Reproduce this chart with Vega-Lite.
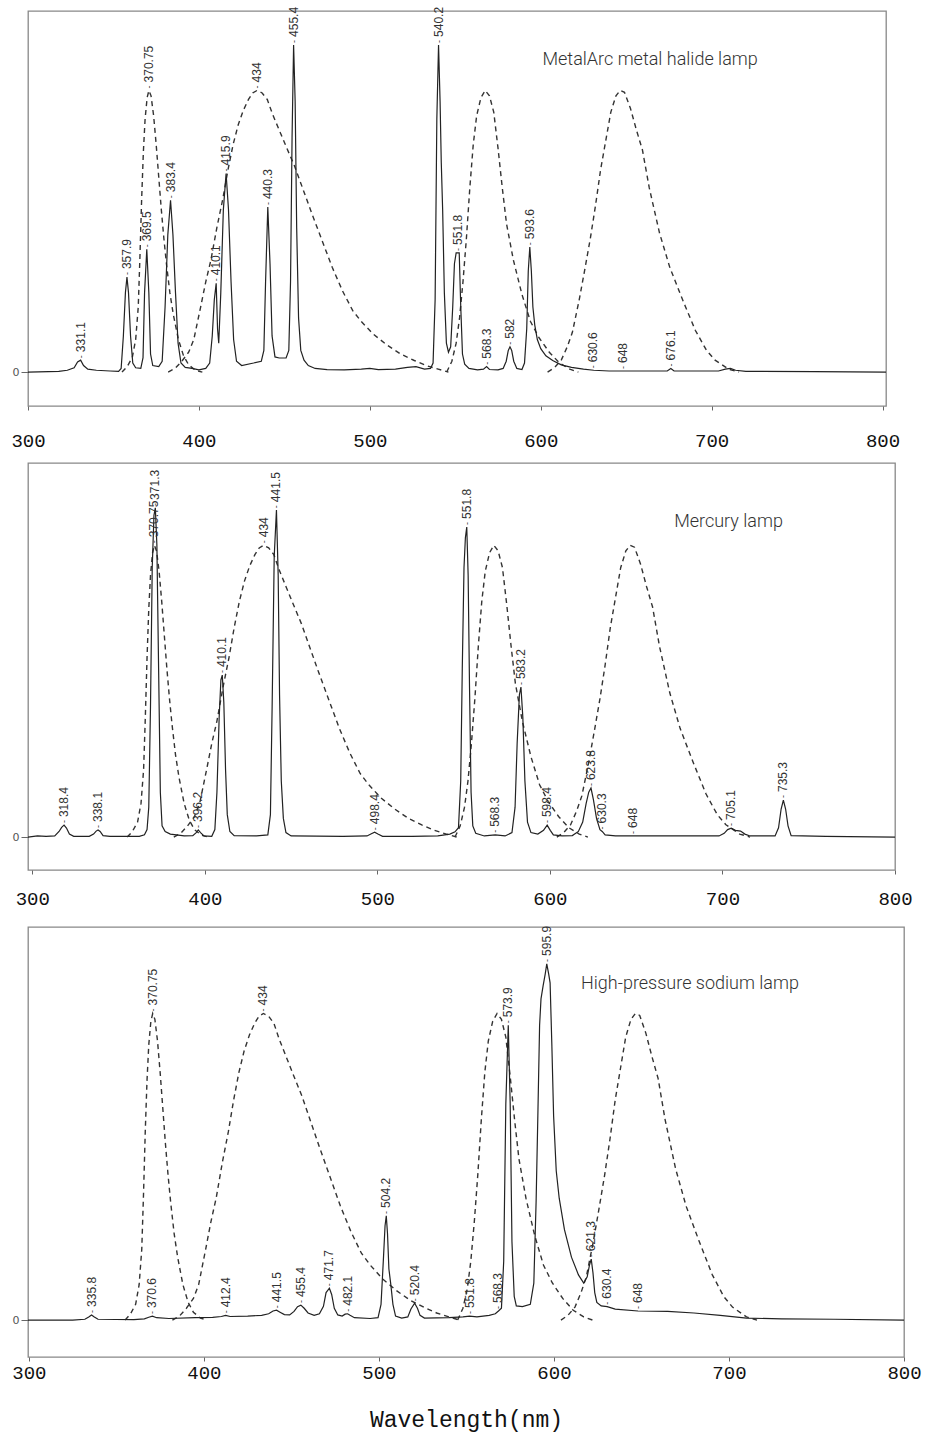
{
"$schema": "https://vega.github.io/schema/vega-lite/v6.json",
"padding": {"left": 10, "top": 6, "right": 5, "bottom": 5},
"background": "white",
"spacing": 57,
"bounds": "flush",
"config": {
  "view": {"stroke": "#888", "strokeWidth": 1.3},
  "axisX": {"labelFont": "Liberation Mono", "labelFontSize": 19, "labelColor": "#111", "tickColor": "#666", "tickSize": 4, "domain": false, "grid": false, "labelFlush": false, "labelOverlap": false, "title": null},
  "axisY": {"labelFont": "DejaVu Sans", "labelFontSize": 11, "labelColor": "#555", "tickColor": "#666", "tickSize": 7, "labelPadding": 2, "domain": false, "grid": false, "title": null},
  "line": {"color": "#222", "strokeWidth": 1.2},
  "text": {"font": "Liberation Sans", "color": "#333"}
},
"datasets": {
  "dash": [
    {"c":"A","wl":355,"v":0},{"c":"A","wl":358,"v":1.5},{"c":"A","wl":361,"v":4},{"c":"A","wl":363,"v":9},{"c":"A","wl":364.5,"v":18},{"c":"A","wl":365.5,"v":32},{"c":"A","wl":366.5,"v":48},{"c":"A","wl":367.5,"v":61},{"c":"A","wl":368.5,"v":70},{"c":"A","wl":369.7,"v":76},{"c":"A","wl":370.75,"v":78},{"c":"A","wl":372,"v":76.5},{"c":"A","wl":373.5,"v":71},{"c":"A","wl":375,"v":63},{"c":"A","wl":376.5,"v":54},{"c":"A","wl":378,"v":45},{"c":"A","wl":379.5,"v":37},{"c":"A","wl":381,"v":30},{"c":"A","wl":383,"v":22},{"c":"A","wl":385,"v":16},{"c":"A","wl":388,"v":9},{"c":"A","wl":391,"v":4.5},{"c":"A","wl":394,"v":2},{"c":"A","wl":398,"v":0.5},{"c":"A","wl":402,"v":0},
    {"c":"B","wl":382,"v":0},{"c":"B","wl":386,"v":1},{"c":"B","wl":390,"v":3},{"c":"B","wl":394,"v":5.5},{"c":"B","wl":397,"v":9},{"c":"B","wl":401,"v":18},{"c":"B","wl":404,"v":25},{"c":"B","wl":407,"v":31},{"c":"B","wl":410.5,"v":40},{"c":"B","wl":414,"v":48},{"c":"B","wl":417,"v":56},{"c":"B","wl":420,"v":63},{"c":"B","wl":423,"v":68.5},{"c":"B","wl":426,"v":72.5},{"c":"B","wl":429,"v":75.5},{"c":"B","wl":431.5,"v":77.3},{"c":"B","wl":434,"v":78},{"c":"B","wl":437,"v":77.3},{"c":"B","wl":440,"v":75.5},{"c":"B","wl":443,"v":71.5},{"c":"B","wl":447,"v":67},{"c":"B","wl":451,"v":62.5},{"c":"B","wl":456,"v":57},{"c":"B","wl":461,"v":50.5},{"c":"B","wl":466,"v":44},{"c":"B","wl":472,"v":36.5},{"c":"B","wl":478,"v":29},{"c":"B","wl":484,"v":22.5},{"c":"B","wl":490,"v":17},{"c":"B","wl":495,"v":14},{"c":"B","wl":502,"v":10.5},{"c":"B","wl":510,"v":7.5},{"c":"B","wl":518,"v":5},{"c":"B","wl":526,"v":3.2},{"c":"B","wl":533,"v":1.8},{"c":"B","wl":540,"v":0.8},{"c":"B","wl":546,"v":0},
    {"c":"C","wl":545,"v":0},{"c":"C","wl":548,"v":3},{"c":"C","wl":550.5,"v":8},{"c":"C","wl":552.5,"v":15},{"c":"C","wl":554.5,"v":25},{"c":"C","wl":556.5,"v":37},{"c":"C","wl":558.5,"v":51},{"c":"C","wl":560.5,"v":63},{"c":"C","wl":562.5,"v":71},{"c":"C","wl":565,"v":76},{"c":"C","wl":567.5,"v":78},{"c":"C","wl":570,"v":76.5},{"c":"C","wl":572.5,"v":72},{"c":"C","wl":575,"v":62},{"c":"C","wl":577.5,"v":51},{"c":"C","wl":580,"v":41},{"c":"C","wl":584,"v":31},{"c":"C","wl":589,"v":21.5},{"c":"C","wl":594,"v":14},{"c":"C","wl":599,"v":9.5},{"c":"C","wl":605,"v":5.5},{"c":"C","wl":611,"v":2.5},{"c":"C","wl":617,"v":0.8},{"c":"C","wl":622,"v":0},
    {"c":"D","wl":604,"v":0},{"c":"D","wl":608,"v":1.2},{"c":"D","wl":612,"v":3.3},{"c":"D","wl":615.5,"v":7},{"c":"D","wl":618.5,"v":11},{"c":"D","wl":622.5,"v":20},{"c":"D","wl":626,"v":29},{"c":"D","wl":629,"v":37},{"c":"D","wl":632,"v":46},{"c":"D","wl":635,"v":56},{"c":"D","wl":638,"v":64},{"c":"D","wl":641,"v":72},{"c":"D","wl":644,"v":76.5},{"c":"D","wl":646.5,"v":78},{"c":"D","wl":649,"v":77.5},{"c":"D","wl":652.5,"v":73},{"c":"D","wl":656,"v":67},{"c":"D","wl":659.5,"v":61.5},{"c":"D","wl":663.5,"v":51},{"c":"D","wl":669.5,"v":38.5},{"c":"D","wl":675.5,"v":29},{"c":"D","wl":683,"v":20},{"c":"D","wl":690.5,"v":11.5},{"c":"D","wl":697,"v":6},{"c":"D","wl":702,"v":3.3},{"c":"D","wl":710,"v":0.8},{"c":"D","wl":716,"v":0}
  ],
  "p1": [
    {"wl":300,"v":0},{"wl":318,"v":0.2},{"wl":323,"v":0.5},{"wl":327,"v":1.2},{"wl":329,"v":2.8},{"wl":330.8,"v":3.3},{"wl":332.5,"v":1.8},{"wl":335,"v":0.8},{"wl":340,"v":0.5},{"wl":348,"v":0.3},{"wl":353,"v":0.2},{"wl":354.5,"v":1},{"wl":355.8,"v":10},{"wl":357,"v":22},{"wl":357.9,"v":26.3},{"wl":358.8,"v":22},{"wl":360,"v":10},{"wl":361.3,"v":2.5},{"wl":363,"v":1.2},{"wl":366,"v":1},{"wl":367.3,"v":4},{"wl":368.2,"v":22},{"wl":369.5,"v":34},{"wl":370.7,"v":22},{"wl":371.7,"v":5},{"wl":373,"v":1.8},{"wl":376.5,"v":1.5},{"wl":378.5,"v":3},{"wl":380.2,"v":18},{"wl":381.8,"v":38},{"wl":383.4,"v":47.6},{"wl":384.8,"v":38},{"wl":386.3,"v":22},{"wl":387.8,"v":8},{"wl":389.5,"v":2.5},{"wl":392,"v":1.3},{"wl":396,"v":1},{"wl":400,"v":0.6},{"wl":404,"v":1},{"wl":406.3,"v":2.5},{"wl":407.8,"v":10},{"wl":409,"v":20},{"wl":410.1,"v":24.6},{"wl":410.9,"v":12},{"wl":411.6,"v":8},{"wl":412.8,"v":22},{"wl":414.3,"v":45},{"wl":415.9,"v":55},{"wl":417.3,"v":45},{"wl":418.8,"v":25},{"wl":420.3,"v":9},{"wl":422,"v":3},{"wl":425,"v":1.8},{"wl":432,"v":2.5},{"wl":436.5,"v":3},{"wl":438,"v":6},{"wl":439,"v":25},{"wl":440.3,"v":45.7},{"wl":441.6,"v":30},{"wl":442.8,"v":10},{"wl":444.5,"v":4.2},{"wl":447,"v":3.9},{"wl":451,"v":3.9},{"wl":452.6,"v":6},{"wl":453.6,"v":25},{"wl":454.5,"v":65},{"wl":455.4,"v":90.6},{"wl":456.3,"v":75},{"wl":457.2,"v":40},{"wl":458.3,"v":15},{"wl":459.6,"v":6},{"wl":461.5,"v":3.3},{"wl":464,"v":1.8},{"wl":468,"v":1},{"wl":475,"v":0.7},{"wl":485,"v":0.6},{"wl":495,"v":0.8},{"wl":500,"v":1},{"wl":505,"v":0.7},{"wl":515,"v":0.8},{"wl":522,"v":1.3},{"wl":527,"v":1.5},{"wl":532,"v":0.8},{"wl":535.5,"v":1},{"wl":537,"v":2.5},{"wl":538.2,"v":20},{"wl":539.2,"v":70},{"wl":540.2,"v":90.6},{"wl":541.1,"v":75},{"wl":541.8,"v":58},{"wl":542.6,"v":45},{"wl":543.6,"v":22},{"wl":544.8,"v":8},{"wl":546,"v":5.5},{"wl":547.3,"v":7},{"wl":548.5,"v":18},{"wl":549.5,"v":30},{"wl":550.5,"v":33},{"wl":552.3,"v":33},{"wl":553.2,"v":18},{"wl":554.2,"v":5},{"wl":555.5,"v":2.2},{"wl":558,"v":1},{"wl":563,"v":0.6},{"wl":566.5,"v":0.8},{"wl":568.3,"v":1.5},{"wl":570,"v":0.7},{"wl":575,"v":0.6},{"wl":578,"v":1},{"wl":579.8,"v":3},{"wl":581,"v":6},{"wl":582,"v":7},{"wl":583,"v":6},{"wl":584.2,"v":3},{"wl":586,"v":1},{"wl":589,"v":0.7},{"wl":590.5,"v":2.5},{"wl":591.8,"v":12},{"wl":592.7,"v":28},{"wl":593.6,"v":34.6},{"wl":594.5,"v":28},{"wl":595.4,"v":18},{"wl":596.5,"v":13},{"wl":598,"v":9},{"wl":600,"v":6.5},{"wl":603,"v":4.5},{"wl":607,"v":3.2},{"wl":612,"v":2},{"wl":618,"v":1.3},{"wl":625,"v":0.8},{"wl":631,"v":0.5},{"wl":640,"v":0.3},{"wl":660,"v":0.3},{"wl":674,"v":0.3},{"wl":676.1,"v":1},{"wl":678,"v":0.3},{"wl":704,"v":0.3},{"wl":708,"v":0.8},{"wl":711,"v":1},{"wl":714,"v":0.5},{"wl":720,"v":0.2},{"wl":760,"v":0.1},{"wl":802,"v":0}
  ],
  "p2": [
    {"wl":297.5,"v":0},{"wl":303,"v":0.3},{"wl":308,"v":0.2},{"wl":313,"v":0.3},{"wl":315.5,"v":1.5},{"wl":317,"v":2.6},{"wl":318.4,"v":3.2},{"wl":319.8,"v":2.4},{"wl":321.5,"v":0.8},{"wl":324,"v":0.2},{"wl":333,"v":0.2},{"wl":335.5,"v":0.8},{"wl":337,"v":1.6},{"wl":338.1,"v":1.9},{"wl":339.3,"v":1.5},{"wl":341,"v":0.4},{"wl":345,"v":0.2},{"wl":362,"v":0.2},{"wl":365,"v":0.6},{"wl":366.5,"v":2},{"wl":367.5,"v":8},{"wl":368.5,"v":35},{"wl":369.5,"v":72},{"wl":370.5,"v":86},{"wl":371.3,"v":88},{"wl":372.2,"v":78},{"wl":373.2,"v":45},{"wl":374.2,"v":12},{"wl":375.2,"v":3},{"wl":377,"v":1.5},{"wl":380,"v":0.8},{"wl":388,"v":0.3},{"wl":393,"v":0.4},{"wl":395,"v":1.2},{"wl":396.2,"v":1.9},{"wl":397.5,"v":1.2},{"wl":399.5,"v":0.3},{"wl":404,"v":0.2},{"wl":405.8,"v":2},{"wl":407,"v":12},{"wl":408.3,"v":32},{"wl":409.3,"v":42},{"wl":410.1,"v":43.3},{"wl":411,"v":36},{"wl":412,"v":18},{"wl":413,"v":6},{"wl":414.5,"v":1.5},{"wl":417,"v":0.4},{"wl":430,"v":0.3},{"wl":436.5,"v":0.6},{"wl":438,"v":6},{"wl":439,"v":35},{"wl":440.2,"v":75},{"wl":441.5,"v":87.4},{"wl":442.5,"v":70},{"wl":443.3,"v":38},{"wl":444.3,"v":15},{"wl":445.5,"v":5},{"wl":447,"v":1.2},{"wl":450,"v":0.3},{"wl":480,"v":0.2},{"wl":494,"v":0.3},{"wl":496.5,"v":0.9},{"wl":498.4,"v":1.3},{"wl":500.3,"v":0.8},{"wl":503,"v":0.2},{"wl":520,"v":0.2},{"wl":535,"v":0.3},{"wl":542,"v":0.8},{"wl":545,"v":1.4},{"wl":547,"v":2.5},{"wl":548.3,"v":15},{"wl":549.2,"v":45},{"wl":550.2,"v":72},{"wl":551,"v":80},{"wl":551.8,"v":82.9},{"wl":552.6,"v":70},{"wl":553.4,"v":40},{"wl":554.3,"v":12},{"wl":555.3,"v":3},{"wl":557,"v":1},{"wl":562,"v":0.3},{"wl":568.3,"v":0.6},{"wl":574,"v":0.3},{"wl":578,"v":1.2},{"wl":579.8,"v":8},{"wl":581,"v":25},{"wl":582.3,"v":38},{"wl":583.2,"v":40.1},{"wl":584.3,"v":32},{"wl":585.5,"v":15},{"wl":587,"v":4},{"wl":589,"v":1.2},{"wl":593,"v":0.8},{"wl":596.3,"v":1.8},{"wl":598.4,"v":3.2},{"wl":600.2,"v":1.8},{"wl":602,"v":0.6},{"wl":607,"v":0.3},{"wl":613,"v":0.4},{"wl":616.5,"v":1.5},{"wl":619,"v":4},{"wl":621,"v":9},{"wl":622.5,"v":12},{"wl":623.8,"v":13.1},{"wl":625.2,"v":10},{"wl":627,"v":5},{"wl":629,"v":2},{"wl":630.3,"v":1.5},{"wl":632,"v":0.6},{"wl":638,"v":0.3},{"wl":648,"v":0.3},{"wl":698,"v":0.3},{"wl":701,"v":1},{"wl":703,"v":2},{"wl":705.1,"v":2.4},{"wl":707.5,"v":1.8},{"wl":710.5,"v":1.6},{"wl":713,"v":0.8},{"wl":716,"v":0.3},{"wl":730.5,"v":0.3},{"wl":732.5,"v":2.5},{"wl":734,"v":7.5},{"wl":735.3,"v":9.9},{"wl":736.6,"v":7.5},{"wl":738,"v":3},{"wl":739.8,"v":0.4},{"wl":760,"v":0.2},{"wl":800,"v":0}
  ],
  "p3": [
    {"wl":299.5,"v":0},{"wl":325,"v":0},{"wl":332,"v":0.2},{"wl":334.2,"v":0.8},{"wl":335.8,"v":1.3},{"wl":337.4,"v":0.8},{"wl":339.5,"v":0.2},{"wl":360,"v":0.1},{"wl":366,"v":0.3},{"wl":368.5,"v":0.7},{"wl":370.6,"v":1},{"wl":373,"v":0.6},{"wl":380,"v":0.4},{"wl":395,"v":0.6},{"wl":405,"v":0.7},{"wl":410,"v":0.9},{"wl":412.4,"v":1.2},{"wl":415,"v":0.9},{"wl":425,"v":1},{"wl":433,"v":1.2},{"wl":437,"v":1.6},{"wl":439.5,"v":2.3},{"wl":441.5,"v":2.5},{"wl":443.5,"v":2},{"wl":446,"v":1.4},{"wl":449,"v":1.3},{"wl":451.5,"v":2.2},{"wl":453.5,"v":3.4},{"wl":455.4,"v":3.8},{"wl":457.3,"v":3},{"wl":459.5,"v":1.8},{"wl":463,"v":1.2},{"wl":466,"v":1.6},{"wl":468.3,"v":3.5},{"wl":469.8,"v":7},{"wl":471.7,"v":8.1},{"wl":473,"v":6.5},{"wl":474.5,"v":3},{"wl":476.5,"v":1.3},{"wl":479,"v":1},{"wl":480.7,"v":1.5},{"wl":482.1,"v":1.6},{"wl":483.5,"v":1.2},{"wl":486,"v":0.6},{"wl":495,"v":0.4},{"wl":499.5,"v":0.6},{"wl":501.2,"v":4},{"wl":502.5,"v":15},{"wl":503.5,"v":24},{"wl":504.2,"v":26.5},{"wl":504.9,"v":22},{"wl":505.7,"v":13},{"wl":506.8,"v":9},{"wl":508,"v":4},{"wl":509.5,"v":1},{"wl":513,"v":0.5},{"wl":516.5,"v":0.8},{"wl":518.3,"v":2.8},{"wl":520.4,"v":4.3},{"wl":522,"v":3},{"wl":523.5,"v":1.2},{"wl":526,"v":0.5},{"wl":540,"v":0.6},{"wl":548,"v":0.8},{"wl":551.8,"v":1},{"wl":556,"v":0.8},{"wl":563,"v":1.2},{"wl":566.5,"v":1.6},{"wl":568.3,"v":2.3},{"wl":570,"v":3},{"wl":571.3,"v":15},{"wl":572.5,"v":55},{"wl":573.9,"v":75},{"wl":575,"v":55},{"wl":576,"v":20},{"wl":577.3,"v":6},{"wl":578.5,"v":3.6},{"wl":582,"v":3.4},{"wl":586.5,"v":4},{"wl":588.5,"v":9.4},{"wl":589.8,"v":30},{"wl":590.8,"v":52},{"wl":591.8,"v":75},{"wl":592.6,"v":81.7},{"wl":593.8,"v":85},{"wl":595,"v":88},{"wl":595.9,"v":90.6},{"wl":597,"v":88},{"wl":597.8,"v":85.8},{"wl":598.8,"v":70},{"wl":599.8,"v":52},{"wl":601.3,"v":38},{"wl":603,"v":31},{"wl":606,"v":23},{"wl":610,"v":16},{"wl":614,"v":11.5},{"wl":617,"v":9.4},{"wl":619,"v":11},{"wl":620.3,"v":14},{"wl":621.3,"v":15.5},{"wl":622.3,"v":12},{"wl":623.3,"v":7},{"wl":624.5,"v":4.5},{"wl":627,"v":3.6},{"wl":630.4,"v":3.4},{"wl":635,"v":2.8},{"wl":648,"v":2.3},{"wl":665,"v":2.2},{"wl":680,"v":1.8},{"wl":695,"v":1.2},{"wl":710,"v":0.5},{"wl":730,"v":0.3},{"wl":760,"v":0.2},{"wl":800,"v":0}
  ],
  "l1": [
    {"wl":331.1,"v":3.3,"t":"331.1"},{"wl":357.9,"v":26.3,"t":"357.9"},{"wl":369.5,"v":34,"t":"369.5"},{"wl":370.75,"v":78,"t":"370.75"},{"wl":383.4,"v":47.6,"t":"383.4"},{"wl":410.1,"v":24.6,"t":"410.1"},{"wl":415.9,"v":55,"t":"415.9"},{"wl":434,"v":78,"t":"434"},{"wl":440.3,"v":45.7,"t":"440.3"},{"wl":455.4,"v":90.6,"t":"455.4"},{"wl":540.2,"v":90.6,"t":"540.2"},{"wl":551.8,"v":33,"t":"551.8"},{"wl":568.3,"v":1.5,"t":"568.3"},{"wl":582,"v":7,"t":"582"},{"wl":593.6,"v":34.6,"t":"593.6"},{"wl":630.6,"v":0.5,"t":"630.6"},{"wl":648,"v":0.3,"t":"648"},{"wl":676.1,"v":1,"t":"676.1"}
  ],
  "l2": [
    {"wl":318.4,"v":3.2,"t":"318.4"},{"wl":338.1,"v":1.9,"t":"338.1"},{"wl":370.75,"v":78,"t":"370.75"},{"wl":371.3,"v":88,"t":"371.3"},{"wl":396.2,"v":1.9,"t":"396.2"},{"wl":410.1,"v":43.3,"t":"410.1"},{"wl":434,"v":78,"t":"434"},{"wl":441.5,"v":87.4,"t":"441.5"},{"wl":498.4,"v":1.3,"t":"498.4"},{"wl":551.8,"v":82.9,"t":"551.8"},{"wl":568.3,"v":0.6,"t":"568.3"},{"wl":583.2,"v":40.1,"t":"583.2"},{"wl":598.4,"v":3.2,"t":"598.4"},{"wl":623.8,"v":13.1,"t":"623.8"},{"wl":630.3,"v":1.5,"t":"630.3"},{"wl":648,"v":0.3,"t":"648"},{"wl":705.1,"v":2.4,"t":"705.1"},{"wl":735.3,"v":9.9,"t":"735.3"}
  ],
  "l3": [
    {"wl":335.8,"v":1.3,"t":"335.8"},{"wl":370.6,"v":1,"t":"370.6"},{"wl":370.75,"v":78,"t":"370.75"},{"wl":412.4,"v":1.2,"t":"412.4"},{"wl":434,"v":78,"t":"434"},{"wl":441.5,"v":2.5,"t":"441.5"},{"wl":455.4,"v":3.8,"t":"455.4"},{"wl":471.7,"v":8.1,"t":"471.7"},{"wl":482.1,"v":1.6,"t":"482.1"},{"wl":504.2,"v":26.5,"t":"504.2"},{"wl":520.4,"v":4.3,"t":"520.4"},{"wl":551.8,"v":1,"t":"551.8"},{"wl":568.3,"v":2.3,"t":"568.3"},{"wl":573.9,"v":75,"t":"573.9"},{"wl":595.9,"v":90.6,"t":"595.9"},{"wl":621.3,"v":15.5,"t":"621.3"},{"wl":630.4,"v":3.4,"t":"630.4"},{"wl":648,"v":2.3,"t":"648"}
  ]
},
"vconcat": [
  {
    "width": 858, "height": 395,
    "layer": [
      {"data": {"name": "dash"}, "mark": {"type": "line", "strokeDash": [5, 4], "strokeWidth": 1.4, "color": "#333"},
       "encoding": {"x": {"field": "wl", "type": "quantitative", "scale": {"domain": [300, 802], "nice": false, "zero": false}, "axis": {"values": [300,400,500,600,700,800], "labelPadding": 21}},
                    "y": {"field": "v", "type": "quantitative", "scale": {"domain": [-9.4, 100], "nice": false, "zero": false}, "axis": {"values": [0]}},
                    "detail": {"field": "c"}}},
      {"data": {"name": "p1"}, "mark": {"type": "line"},
       "encoding": {"x": {"field": "wl", "type": "quantitative"}, "y": {"field": "v", "type": "quantitative"}}},
      {"data": {"name": "l1"}, "mark": {"type": "text", "text": "-", "angle": 270, "align": "left", "baseline": "middle", "dx": 2, "fontSize": 9},
       "encoding": {"x": {"field": "wl", "type": "quantitative"}, "y": {"field": "v", "type": "quantitative"}}},
      {"data": {"name": "l1"}, "mark": {"type": "text", "angle": 270, "align": "left", "baseline": "middle", "dx": 8, "fontSize": 12},
       "encoding": {"x": {"field": "wl", "type": "quantitative"}, "y": {"field": "v", "type": "quantitative"}, "text": {"field": "t"}}},
      {"data": {"values": [{}]}, "mark": {"type": "text", "text": "MetalArc metal halide lamp", "align": "left", "baseline": "middle", "fontSize": 18, "font": "Roboto", "fontWeight": 300, "color": "#333"},
       "encoding": {"x": {"datum": 601}, "y": {"datum": 86.4}}}
    ]
  },
  {
    "width": 867, "height": 407,
    "layer": [
      {"data": {"name": "dash"}, "mark": {"type": "line", "strokeDash": [5, 4], "strokeWidth": 1.4, "color": "#333"},
       "encoding": {"x": {"field": "wl", "type": "quantitative", "scale": {"domain": [297.5, 800], "nice": false, "zero": false}, "axis": {"values": [300,400,500,600,700,800], "labelPadding": 15}},
                    "y": {"field": "v", "type": "quantitative", "scale": {"domain": [-8.8, 100], "nice": false, "zero": false}, "axis": {"values": [0]}},
                    "detail": {"field": "c"}}},
      {"data": {"name": "p2"}, "mark": {"type": "line"},
       "encoding": {"x": {"field": "wl", "type": "quantitative"}, "y": {"field": "v", "type": "quantitative"}}},
      {"data": {"name": "l2"}, "mark": {"type": "text", "text": "-", "angle": 270, "align": "left", "baseline": "middle", "dx": 2, "fontSize": 9},
       "encoding": {"x": {"field": "wl", "type": "quantitative"}, "y": {"field": "v", "type": "quantitative"}}},
      {"data": {"name": "l2"}, "mark": {"type": "text", "angle": 270, "align": "left", "baseline": "middle", "dx": 8, "fontSize": 12},
       "encoding": {"x": {"field": "wl", "type": "quantitative"}, "y": {"field": "v", "type": "quantitative"}, "text": {"field": "t"}}},
      {"data": {"values": [{}]}, "mark": {"type": "text", "text": "Mercury lamp", "align": "left", "baseline": "middle", "fontSize": 18, "font": "Roboto", "fontWeight": 300, "color": "#333"},
       "encoding": {"x": {"datum": 672}, "y": {"datum": 84.2}}}
    ]
  },
  {
    "width": 876, "height": 430,
    "layer": [
      {"data": {"name": "dash"}, "mark": {"type": "line", "strokeDash": [5, 4], "strokeWidth": 1.4, "color": "#333"},
       "encoding": {"x": {"field": "wl", "type": "quantitative", "scale": {"domain": [299.5, 800], "nice": false, "zero": false}, "axis": {"values": [300,400,500,600,700,800], "labelPadding": 2, "title": "Wavelength(nm)", "titleFont": "Liberation Mono", "titleFontSize": 23, "titleFontWeight": "normal", "titleColor": "#111", "titlePadding": 26}},
                    "y": {"field": "v", "type": "quantitative", "scale": {"domain": [-9.4, 100], "nice": false, "zero": false}, "axis": {"values": [0]}},
                    "detail": {"field": "c"}}},
      {"data": {"name": "p3"}, "mark": {"type": "line"},
       "encoding": {"x": {"field": "wl", "type": "quantitative"}, "y": {"field": "v", "type": "quantitative"}}},
      {"data": {"name": "l3"}, "mark": {"type": "text", "text": "-", "angle": 270, "align": "left", "baseline": "middle", "dx": 2, "fontSize": 9},
       "encoding": {"x": {"field": "wl", "type": "quantitative"}, "y": {"field": "v", "type": "quantitative"}}},
      {"data": {"name": "l3"}, "mark": {"type": "text", "angle": 270, "align": "left", "baseline": "middle", "dx": 8, "fontSize": 12},
       "encoding": {"x": {"field": "wl", "type": "quantitative"}, "y": {"field": "v", "type": "quantitative"}, "text": {"field": "t"}}},
      {"data": {"values": [{}]}, "mark": {"type": "text", "text": "High-pressure sodium lamp", "align": "left", "baseline": "middle", "fontSize": 18, "font": "Roboto", "fontWeight": 300, "color": "#333"},
       "encoding": {"x": {"datum": 615.5}, "y": {"datum": 85.5}}}
    ]
  }
]
}
